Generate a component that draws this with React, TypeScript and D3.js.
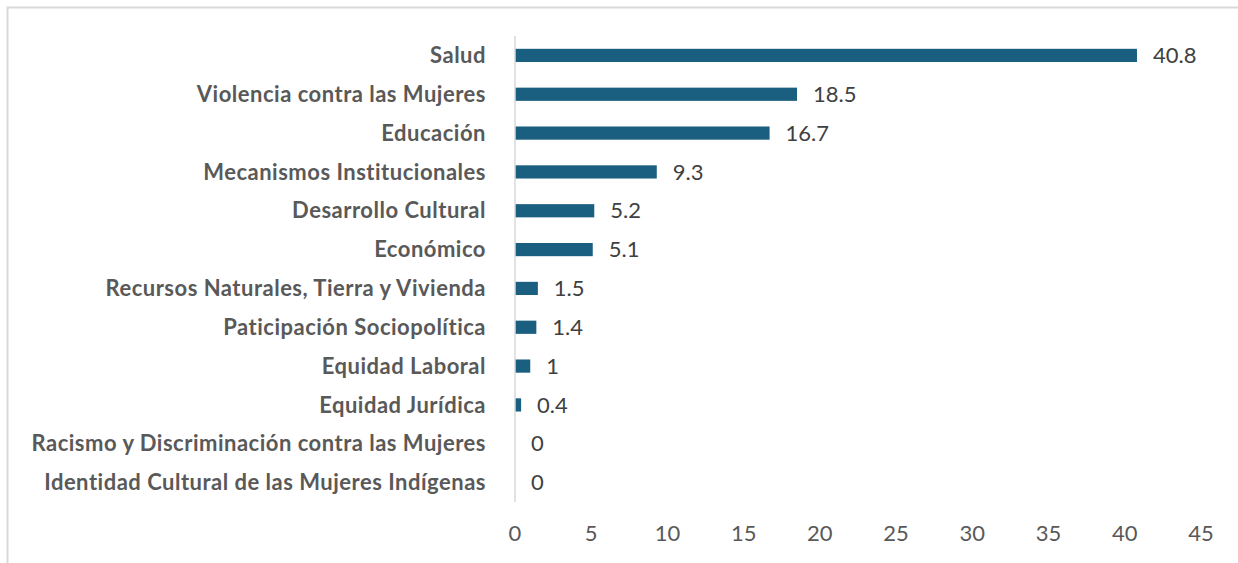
import React, { useEffect, useRef } from 'react';
import * as d3 from 'd3';

const categories = [
  'Salud',
  'Violencia contra las Mujeres',
  'Educación',
  'Mecanismos Institucionales',
  'Desarrollo Cultural',
  'Económico',
  'Recursos Naturales, Tierra y Vivienda',
  'Paticipación Sociopolítica',
  'Equidad Laboral',
  'Equidad Jurídica',
  'Racismo y Discriminación contra las Mujeres',
  'Identidad Cultural de las Mujeres Indígenas',
];
const values = [40.8, 18.5, 16.7, 9.3, 5.2, 5.1, 1.5, 1.4, 1, 0.4, 0, 0];
const xTicks = [0, 5, 10, 15, 20, 25, 30, 35, 40, 45];

const width = 1238;
const height = 563;
const margin = { top: 36, right: 37, bottom: 61, left: 515 };

export default function App() {
  const ref = useRef<SVGSVGElement>(null);

  useEffect(() => {
    const svg = d3.select(ref.current);
    svg.selectAll('*').remove();

    // chart area border (cut at right and bottom like the source)
    svg.append('rect')
      .attr('x', 7.5).attr('y', 7.5)
      .attr('width', width + 20).attr('height', height + 20)
      .attr('fill', 'white')
      .attr('stroke', '#d9d9d9')
      .attr('stroke-width', 2);

    const x = d3.scaleLinear().domain([0, 45]).range([margin.left, width - margin.right]);
    const y = d3.scaleBand().domain(categories).range([margin.top, height - margin.bottom]).paddingInner(0.66).paddingOuter(0.33);

    const g = svg.append('g').attr('font-family', 'Lato, "Open Sans", sans-serif');

    // bars
    g.selectAll('rect.bar')
      .data(categories)
      .enter()
      .append('rect')
      .attr('class', 'bar')
      .attr('x', x(0))
      .attr('y', d => y(d)!)
      .attr('width', (d, i) => x(values[i]) - x(0))
      .attr('height', y.bandwidth())
      .attr('fill', '#1a5e80');

    // vertical axis line
    g.append('line')
      .attr('x1', x(0)).attr('x2', x(0))
      .attr('y1', margin.top).attr('y2', height - margin.bottom)
      .attr('stroke', '#d9d9d9')
      .attr('stroke-width', 1.5);

    // category labels
    g.selectAll('text.cat')
      .data(categories)
      .enter()
      .append('text')
      .attr('class', 'cat')
      .attr('x', x(0) - 29)
      .attr('y', d => y(d)! + y.bandwidth() / 2)
      .attr('dy', '0.35em')
      .attr('text-anchor', 'end')
      .attr('font-size', 22)
      .attr('font-weight', 'bold')
      .attr('letter-spacing', 0.5)
      .attr('fill', '#595959')
      .text(d => d);

    // value labels
    g.selectAll('text.val')
      .data(categories)
      .enter()
      .append('text')
      .attr('class', 'val')
      .attr('x', (d, i) => x(values[i]) + 16)
      .attr('y', d => y(d)! + y.bandwidth() / 2)
      .attr('dy', '0.35em')
      .attr('font-size', 22)
      .attr('fill', '#404040')
      .text((d, i) => String(values[i]));

    // x tick labels
    g.selectAll('text.tick')
      .data(xTicks)
      .enter()
      .append('text')
      .attr('class', 'tick')
      .attr('x', d => x(d))
      .attr('y', 533)
      .attr('dy', '0.35em')
      .attr('text-anchor', 'middle')
      .attr('font-size', 22)
      .attr('fill', '#595959')
      .text(d => String(d));
  }, []);

  return (
    <div style={{ position: 'absolute', left: 0, top: 0 }}>
      <svg ref={ref} width={width} height={height} style={{ display: 'block' }} />
    </div>
  );
}
